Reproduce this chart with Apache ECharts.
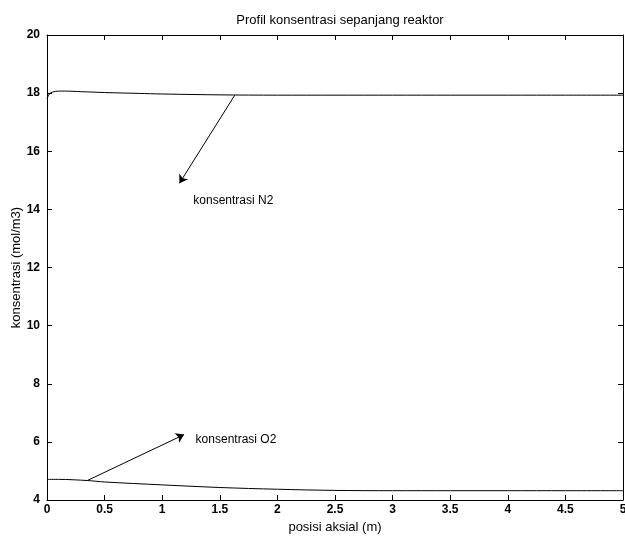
<!DOCTYPE html>
<html>
<head>
<meta charset="utf-8">
<script src="https://cdn.jsdelivr.net/npm/echarts@6/dist/echarts.min.js"></script>
<style>
html, body { margin: 0; padding: 0; background: #fff; }
#main { width: 625px; height: 538px; }
</style>
</head>
<body>
<div id="main"></div>
<script>
// posisi aksial (m) dan konsentrasi (mol/m3)
var posN2 = [0, 0.02, 0.05, 0.1, 0.15, 0.3, 0.5, 0.8, 1, 1.5, 2, 2.5, 3, 3.5, 4, 4.5, 5];
var konsN2 = [17.8, 17.97, 18.04, 18.07, 18.07, 18.05, 18.02, 17.99, 17.97, 17.94, 17.93, 17.93, 17.93, 17.93, 17.93, 17.93, 17.93];

var posO2 = [0, 0.1, 0.35, 0.5, 1, 1.5, 2, 2.5, 3, 3.5, 4, 4.5, 5];
var konsO2 = [4.71, 4.71, 4.67, 4.62, 4.52, 4.43, 4.37, 4.33, 4.32, 4.32, 4.32, 4.32, 4.32];

// panah keterangan: [dari, ke] dalam koordinat data
var panahN2 = [[1.63, 17.93], [1.15, 14.9]];
var panahO2 = [[0.35, 4.67], [1.19, 6.25]];
var teksN2 = [1.27, 14.3];
var teksO2 = [1.29, 6.08];

function pasang(x, y) {
    var out = [];
    for (var i = 0; i < x.length; i++) out.push([x[i], y[i]]);
    return out;
}

var fontF = 'Liberation Sans, Arial, sans-serif';
var myChart = echarts.init(document.getElementById('main'));

var sumbuX = {
    type: 'value', min: 0, max: 5, interval: 0.5,
    axisLine: { show: true, onZero: false, lineStyle: { color: '#000', width: 1 } },
    axisTick: { inside: true, length: 5, lineStyle: { color: '#000' } },
    splitLine: { show: false }
};
var sumbuY = {
    type: 'value', min: 4, max: 20, interval: 2,
    axisLine: { show: true, onZero: false, lineStyle: { color: '#000', width: 1 } },
    axisTick: { inside: true, length: 5, lineStyle: { color: '#000' } },
    splitLine: { show: false }
};

option = {
    animation: false,
    backgroundColor: '#fff',
    title: {
        text: 'Profil konsentrasi sepanjang reaktor',
        left: 335, top: 9, textAlign: 'center',
        textStyle: { fontFamily: fontF, fontSize: 13, fontWeight: 'normal', color: '#000' }
    },
    grid: { left: 47, right: 2, top: 35, bottom: 38, outerBoundsMode: 'none', containLabel: false },
    xAxis: [
        Object.assign({}, sumbuX, {
            position: 'bottom',
            name: 'posisi aksial (m)', nameLocation: 'middle', nameGap: 21, nameMoveOverlap: false,
            nameTextStyle: { fontFamily: fontF, fontSize: 13, color: '#000' },
            axisLabel: { margin: 4, fontFamily: fontF, fontSize: 12, fontWeight: 'bold', color: '#000', showMaxLabel: true }
        }),
        Object.assign({}, sumbuX, { position: 'top', axisLabel: { show: false } })
    ],
    yAxis: [
        Object.assign({}, sumbuY, {
            position: 'left',
            name: 'konsentrasi (mol/m3)', nameLocation: 'middle', nameGap: 24, nameMoveOverlap: false,
            nameTextStyle: { fontFamily: fontF, fontSize: 13, color: '#000' },
            axisLabel: { margin: 7, fontFamily: fontF, fontSize: 12, fontWeight: 'bold', color: '#000' }
        }),
        Object.assign({}, sumbuY, { position: 'right', axisLabel: { show: false } })
    ],
    series: [
        {
            name: 'N2', type: 'line', data: pasang(posN2, konsN2),
            symbol: 'none', smooth: 0.3,
            lineStyle: { color: '#000', width: 1 },
            markLine: {
                silent: true, symbol: ['none', 'arrow'], symbolSize: 8,
                label: { show: false },
                lineStyle: { color: '#000', width: 1, type: 'solid' },
                data: [[{ coord: panahN2[0] }, { coord: panahN2[1] }]]
            },
            markPoint: {
                symbol: 'circle', symbolSize: 0,
                label: { show: true, position: 'right', distance: 0, formatter: 'konsentrasi N2',
                    fontFamily: fontF, fontSize: 12, color: '#000' },
                data: [{ coord: teksN2 }]
            }
        },
        {
            name: 'O2', type: 'line', data: pasang(posO2, konsO2),
            symbol: 'none', smooth: 0.3,
            lineStyle: { color: '#000', width: 1 },
            markLine: {
                silent: true, symbol: ['none', 'arrow'], symbolSize: 8,
                label: { show: false },
                lineStyle: { color: '#000', width: 1, type: 'solid' },
                data: [[{ coord: panahO2[0] }, { coord: panahO2[1] }]]
            },
            markPoint: {
                symbol: 'circle', symbolSize: 0,
                label: { show: true, position: 'right', distance: 0, formatter: 'konsentrasi O2',
                    fontFamily: fontF, fontSize: 12, color: '#000' },
                data: [{ coord: teksO2 }]
            }
        }
    ]
};
myChart.setOption(option);
</script>
</body>
</html>
